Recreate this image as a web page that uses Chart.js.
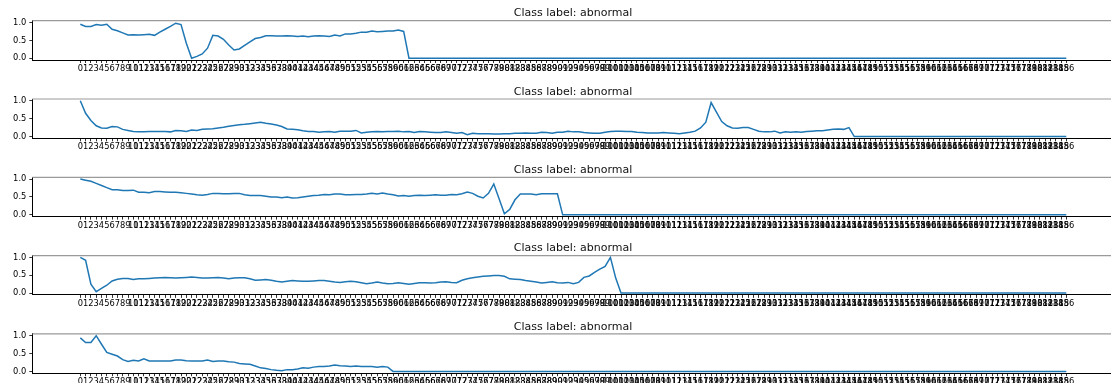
<!DOCTYPE html>
<html>
<head>
<meta charset="utf-8">
<script src="https://cdn.jsdelivr.net/npm/chart.js@4.4.1/dist/chart.umd.min.js"></script>
<style>
  html, body { margin: 0; padding: 0; background: #fff; overflow: hidden; width: 1111px; height: 383px; }
  .panel { position: absolute; left: 0; width: 1111px; }
</style>
</head>
<body>
<div id="wrap"></div>
<script>
// sample positions along each heartbeat (tick labels 0..186)
const steps = [
  0,1,2,3,4,5,6,7,8,9,10,11,12,13,14,15,16,17,18,19,20,21,22,23,24,25,26,27,28,29,
  30,31,32,33,34,35,36,37,38,39,40,41,42,43,44,45,46,47,48,49,50,51,52,53,54,55,56,57,58,59,
  60,61,62,63,64,65,66,67,68,69,70,71,72,73,74,75,76,77,78,79,80,81,82,83,84,85,86,87,88,89,
  90,91,92,93,94,95,96,97,98,99,100,101,102,103,104,105,106,107,108,109,110,111,112,113,114,115,116,117,118,119,
  120,121,122,123,124,125,126,127,128,129,130,131,132,133,134,135,136,137,138,139,140,141,142,143,144,145,146,147,148,149,
  150,151,152,153,154,155,156,157,158,159,160,161,162,163,164,165,166,167,168,169,170,171,172,173,174,175,176,177,178,179,
  180,181,182,183,184,185,186
];

const beat1 = [
  0.95,0.89,0.89,0.94,0.92,0.95,0.81,0.77,0.71,0.65,0.66,0.65,0.66,0.67,0.64,0.73,0.81,0.89,0.98,0.94,
  0.42,0.00,0.05,0.12,0.28,0.64,0.62,0.53,0.37,0.23,0.26,0.36,0.46,0.55,0.58,0.63,0.63,0.62,0.62,0.63,
  0.62,0.61,0.62,0.60,0.62,0.63,0.62,0.61,0.65,0.62,0.68,0.68,0.70,0.73,0.73,0.76,0.74,0.75,0.76,0.76,
  0.79,0.75,0,0,0,0,0,0,0,0,0,0,0,0,0,0,0,0,0,0,
  0,0,0,0,0,0,0,0,0,0,0,0,0,0,0,0,0,0,0,0,
  0,0,0,0,0,0,0,0,0,0,0,0,0,0,0,0,0,0,0,0,
  0,0,0,0,0,0,0,0,0,0,0,0,0,0,0,0,0,0,0,0,
  0,0,0,0,0,0,0,0,0,0,0,0,0,0,0,0,0,0,0,0,
  0,0,0,0,0,0,0,0,0,0,0,0,0,0,0,0,0,0,0,0,
  0,0,0,0,0,0,0
];

const beat2 = [
  1.00,0.65,0.45,0.30,0.24,0.23,0.28,0.27,0.20,0.17,0.14,0.13,0.13,0.14,0.14,0.14,0.14,0.13,0.17,0.16,
  0.14,0.18,0.17,0.20,0.21,0.22,0.24,0.26,0.29,0.31,0.33,0.34,0.36,0.38,0.40,0.37,0.35,0.32,0.28,0.21,
  0.20,0.19,0.16,0.14,0.14,0.12,0.13,0.14,0.12,0.15,0.15,0.15,0.17,0.10,0.12,0.13,0.14,0.13,0.14,0.14,
  0.15,0.13,0.14,0.11,0.14,0.13,0.12,0.11,0.11,0.13,0.11,0.09,0.11,0.05,0.09,0.08,0.08,0.08,0.07,0.07,
  0.08,0.08,0.09,0.09,0.10,0.09,0.09,0.12,0.11,0.09,0.12,0.12,0.15,0.13,0.13,0.11,0.10,0.09,0.09,0.12,
  0.14,0.15,0.15,0.14,0.14,0.12,0.11,0.10,0.10,0.10,0.11,0.10,0.09,0.08,0.10,0.12,0.15,0.24,0.40,0.95,
  0.68,0.42,0.30,0.24,0.23,0.25,0.25,0.20,0.15,0.13,0.13,0.15,0.10,0.13,0.12,0.13,0.12,0.14,0.15,0.16,
  0.16,0.18,0.20,0.21,0.20,0.25,0,0,0,0,0,0,0,0,0,0,0,0,0,0,
  0,0,0,0,0,0,0,0,0,0,0,0,0,0,0,0,0,0,0,0,
  0,0,0,0,0,0,0
];

const beat3 = [
  1.00,0.97,0.94,0.88,0.82,0.76,0.70,0.70,0.68,0.68,0.69,0.63,0.63,0.62,0.65,0.65,0.64,0.63,0.63,0.62,
  0.60,0.58,0.56,0.55,0.57,0.60,0.60,0.59,0.59,0.60,0.60,0.56,0.54,0.54,0.54,0.52,0.50,0.50,0.48,0.50,
  0.47,0.48,0.50,0.52,0.54,0.55,0.57,0.56,0.58,0.58,0.56,0.56,0.57,0.57,0.58,0.60,0.58,0.61,0.58,0.56,
  0.53,0.54,0.52,0.54,0.55,0.54,0.55,0.56,0.55,0.55,0.57,0.56,0.59,0.64,0.60,0.52,0.47,0.60,0.86,0.45,
  0.03,0.15,0.42,0.58,0.58,0.58,0.56,0.59,0.59,0.59,0.59,0,0,0,0,0,0,0,0,0,
  0,0,0,0,0,0,0,0,0,0,0,0,0,0,0,0,0,0,0,0,
  0,0,0,0,0,0,0,0,0,0,0,0,0,0,0,0,0,0,0,0,
  0,0,0,0,0,0,0,0,0,0,0,0,0,0,0,0,0,0,0,0,
  0,0,0,0,0,0,0,0,0,0,0,0,0,0,0,0,0,0,0,0,
  0,0,0,0,0,0,0
];

const beat4 = [
  1.00,0.92,0.25,0.04,0.13,0.22,0.34,0.39,0.41,0.41,0.38,0.40,0.40,0.41,0.42,0.43,0.44,0.43,0.42,0.43,
  0.44,0.45,0.44,0.42,0.42,0.43,0.44,0.42,0.40,0.42,0.43,0.43,0.40,0.36,0.37,0.38,0.36,0.33,0.31,0.33,
  0.35,0.34,0.33,0.33,0.34,0.35,0.35,0.33,0.31,0.30,0.32,0.33,0.32,0.29,0.26,0.28,0.31,0.28,0.26,0.27,
  0.29,0.27,0.25,0.27,0.29,0.29,0.28,0.29,0.31,0.32,0.30,0.29,0.36,0.40,0.43,0.45,0.47,0.48,0.49,0.49,
  0.47,0.40,0.39,0.38,0.35,0.33,0.31,0.28,0.30,0.32,0.29,0.28,0.30,0.26,0.30,0.44,0.48,0.58,0.67,0.75,
  1.00,0.42,0,0,0,0,0,0,0,0,0,0,0,0,0,0,0,0,0,0,
  0,0,0,0,0,0,0,0,0,0,0,0,0,0,0,0,0,0,0,0,
  0,0,0,0,0,0,0,0,0,0,0,0,0,0,0,0,0,0,0,0,
  0,0,0,0,0,0,0,0,0,0,0,0,0,0,0,0,0,0,0,0,
  0,0,0,0,0,0,0
];

const beat5 = [
  0.94,0.81,0.81,1.00,0.76,0.53,0.48,0.43,0.33,0.28,0.31,0.29,0.35,0.29,0.29,0.29,0.29,0.29,0.32,0.32,
  0.30,0.29,0.29,0.29,0.32,0.28,0.29,0.29,0.27,0.26,0.22,0.21,0.20,0.15,0.10,0.08,0.05,0.03,0.02,0.05,
  0.05,0.07,0.10,0.09,0.12,0.14,0.14,0.15,0.18,0.16,0.15,0.14,0.15,0.14,0.14,0.14,0.12,0.14,0.12,0,
  0,0,0,0,0,0,0,0,0,0,0,0,0,0,0,0,0,0,0,0,
  0,0,0,0,0,0,0,0,0,0,0,0,0,0,0,0,0,0,0,0,
  0,0,0,0,0,0,0,0,0,0,0,0,0,0,0,0,0,0,0,0,
  0,0,0,0,0,0,0,0,0,0,0,0,0,0,0,0,0,0,0,0,
  0,0,0,0,0,0,0,0,0,0,0,0,0,0,0,0,0,0,0,0,
  0,0,0,0,0,0,0,0,0,0,0,0,0,0,0,0,0,0,0,0,
  0,0,0,0,0,0,0
];

const beats = [beat1, beat2, beat3, beat4, beat5];
const panelTitles = ['Class label: abnormal','Class label: abnormal','Class label: abnormal','Class label: abnormal','Class label: abnormal'];
const yTicks = [0.0, 0.5, 1.0];

const FONT = 'DejaVu Sans';
const LINE_BLUE = '#1f77b4';

// geometry of each subplot
const AXIS_LEFT = 32.3;        // left spine
const X_MIN = -9.055, X_MAX = 194.43;
const AREA_TOP0 = 20.7;        // top spine of the first panel
const PANEL_STEP = 78.3;
const AREA_H = 39.3;
const XAXIS_H = 18;
const CANVAS_H = 80;

// spine on top + title centred over the full axes
const framePlugin = {
  id: 'frame',
  afterDraw(chart, args, opts) {
    const { ctx, chartArea } = chart;
    ctx.save();
    ctx.strokeStyle = '#9a9a9a';
    ctx.lineWidth = 1.2;
    ctx.beginPath();
    ctx.moveTo(chartArea.left, chartArea.top);
    ctx.lineTo(chart.width, chartArea.top);
    ctx.stroke();
    ctx.fillStyle = '#111';
    ctx.font = '11px "' + FONT + '"';
    ctx.textAlign = 'center';
    ctx.textBaseline = 'alphabetic';
    ctx.fillText(opts.text, 573, chartArea.top - 4.3);
    ctx.restore();
  }
};

const wrap = document.getElementById('wrap');
beats.forEach((vals, k) => {
  const areaTop = AREA_TOP0 + PANEL_STEP * k;
  const divTop = Math.round(areaTop) - 21;
  const padTop = areaTop - divTop;
  const div = document.createElement('div');
  div.className = 'panel';
  div.style.top = divTop + 'px';
  div.style.height = CANVAS_H + 'px';
  const cv = document.createElement('canvas');
  cv.width = 1111;
  cv.height = CANVAS_H;
  div.appendChild(cv);
  wrap.appendChild(div);
  const bottomPad = CANVAS_H - padTop - AREA_H - XAXIS_H;

  new Chart(cv, {
    type: 'line',
    data: {
      datasets: [{
        data: vals.map((v, i) => ({ x: steps[i], y: v })),
        borderColor: LINE_BLUE,
        borderWidth: 1.5,
        pointRadius: 0,
        tension: 0,
        fill: false
      }]
    },
    plugins: [framePlugin],
    options: {
      responsive: false,
      animation: false,
      devicePixelRatio: 1,
      layout: { padding: { top: padTop, bottom: bottomPad, left: 0, right: 0 } },
      plugins: {
        legend: { display: false },
        tooltip: { enabled: false },
        frame: { text: panelTitles[k] }
      },
      scales: {
        x: {
          type: 'linear',
          min: X_MIN,
          max: X_MAX,
          afterBuildTicks: s => { s.ticks = steps.map(v => ({ value: v })); },
          afterFit: s => { s.height = XAXIS_H; s.paddingLeft = 0; s.paddingRight = 0; },
          ticks: {
            autoSkip: false,
            maxRotation: 0,
            minRotation: 0,
            padding: 1,
            color: '#000',
            font: { family: FONT, size: 8.3 },
            callback: v => String(v)
          },
          grid: { drawOnChartArea: false, drawTicks: true, tickLength: 3, color: '#000', lineWidth: 0.8 },
          border: { display: true, color: '#000', width: 1 }
        },
        y: {
          min: -0.05,
          max: 1.05,
          afterBuildTicks: s => { s.ticks = yTicks.map(v => ({ value: v })); },
          afterFit: s => { s.width = AXIS_LEFT; },
          ticks: {
            padding: 3,
            color: '#000',
            font: { family: FONT, size: 8.3 },
            callback: v => Number(v).toFixed(1)
          },
          grid: { drawOnChartArea: false, drawTicks: true, tickLength: 3, color: '#000', lineWidth: 0.8 },
          border: { display: true, color: '#000', width: 1 }
        }
      }
    }
  });
});
</script>
</body>
</html>
